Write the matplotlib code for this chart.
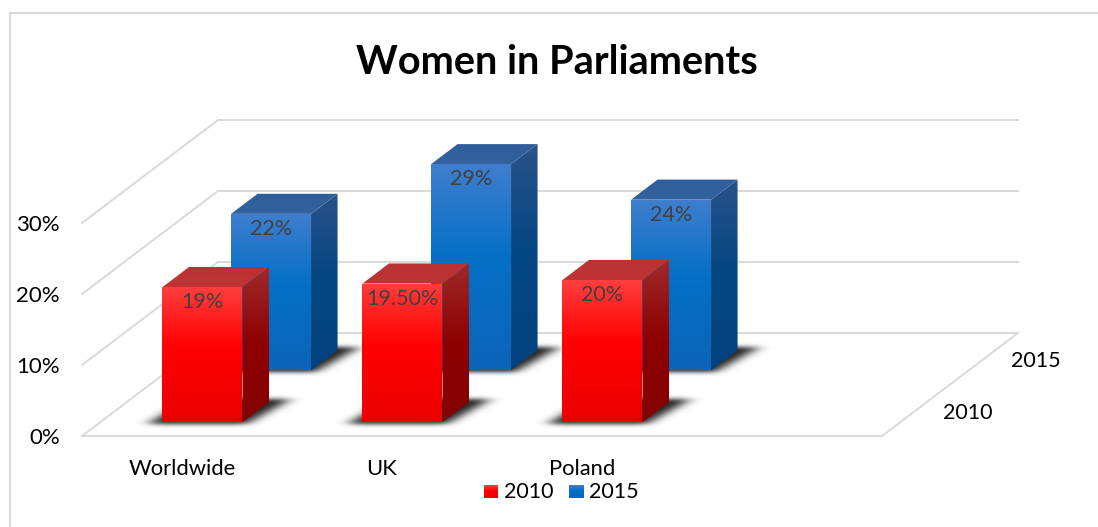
import numpy as np
import matplotlib
matplotlib.use("Agg")
import matplotlib.pyplot as plt
from matplotlib.patches import Polygon
from matplotlib.path import Path

categories = ["Worldwide", "UK", "Poland"]
series_names = ["2010", "2015"]
values_2010 = [19, 19.5, 20]
values_2015 = [22, 29, 24]
labels_2010 = ["19%", "19.50%", "20%"]
labels_2015 = ["22%", "29%", "24%"]
axis_ticks = [0, 10, 20, 30]

GRID = "#d9d9d9"
LABEL = "#404040"
FONT = ["Lato", "DejaVu Sans"]

# box geometry, in pixels
X0, Y0 = 82, 436
FLOOR_W = 800
DEPTH_X, DEPTH_Y = 136, 103
CAT_W = 200
PX_PER_PCT = 7.1
BAR_W = 80
BAR_DEPTH = 0.195

RED = {
    "front": [(0, (255, 62, 62)), (0.45, (255, 0, 0)), (1, (234, 0, 0))],
    "side": [(0, (158, 42, 42)), (0.5, (142, 0, 0)), (1, (132, 0, 0))],
    "top": [(0, (186, 50, 50)), (1, (190, 52, 52))],
}
BLUE = {
    "front": [(0, (64, 126, 206)), (0.45, (4, 112, 198)), (1, (12, 100, 184))],
    "side": [(0, (42, 82, 138)), (0.5, (2, 70, 130)), (1, (2, 66, 126))],
    "top": [(0, (48, 94, 154)), (1, (52, 98, 158))],
}


def project(x, depth, value=0):
    """x in floor pixels from the left corner, depth 0-1, value in percent."""
    return (X0 + x + depth * DEPTH_X, Y0 - depth * DEPTH_Y - value * PX_PER_PCT)


def gradient_poly(ax, pts, stops, zorder):
    pts = np.array(pts, dtype=float)
    l, r = pts[:, 0].min(), pts[:, 0].max()
    t, b = pts[:, 1].min(), pts[:, 1].max()
    pos = np.linspace(0, 1, 256)
    stop_pos = [s[0] for s in stops]
    rgb = np.stack(
        [np.interp(pos, stop_pos, [s[1][i] for s in stops]) for i in range(3)], axis=1
    )
    img = (rgb / 255.0)[:, None, :]
    im = ax.imshow(img, extent=(l, r, b, t), aspect="auto", zorder=zorder,
                   interpolation="bilinear")
    im.set_clip_path(Polygon(pts, closed=True, transform=ax.transData))


def draw_shadow(ax, fl, fr, br, bl, zorder):
    # soft shadow on the floor, a stretched footprint with blurred edges
    pts = [(fl[0] - 15, fl[1] + 2), (fr[0] + 4, fr[1] + 2),
           (br[0] + 22, br[1] - 3), (bl[0], bl[1] - 3)]
    xmin, ymin = int(fl[0] - 50), int(br[1] - 30)
    w, h = int(br[0] - fl[0] + 110), int(fl[1] - br[1] + 60)
    xx, yy = np.meshgrid(np.arange(w) + xmin + 0.5, np.arange(h) + ymin + 0.5)
    mask = Path(pts).contains_points(np.c_[xx.ravel(), yy.ravel()]).reshape(h, w).astype(float)
    kernel_x = np.exp(-np.arange(-20, 21) ** 2 / (2 * 7.0 ** 2))
    kernel_x /= kernel_x.sum()
    kernel_y = np.exp(-np.arange(-8, 9) ** 2 / (2 * 2.2 ** 2))
    kernel_y /= kernel_y.sum()
    mask = np.apply_along_axis(lambda m: np.convolve(m, kernel_y, mode="same"), 0, mask)
    mask = np.apply_along_axis(lambda m: np.convolve(m, kernel_x, mode="same"), 1, mask)
    rgba = np.zeros((h, w, 4))
    rgba[..., :3] = 0.18
    rgba[..., 3] = np.clip(mask * 1.05, 0, 1)
    ax.imshow(rgba, extent=(xmin, xmin + w, ymin + h, ymin), aspect="auto", zorder=zorder,
              interpolation="bilinear")


def draw_bar(ax, cat_idx, front_depth, value, colours, label, zorder):
    cx = CAT_W * cat_idx + 100 + 2
    x1, x2 = cx - BAR_W / 2, cx + BAR_W / 2
    d2 = front_depth + BAR_DEPTH

    draw_shadow(ax, project(x1, front_depth), project(x2, front_depth),
                project(x2, d2), project(x1, d2), zorder)

    gradient_poly(ax, [project(x1, front_depth), project(x2, front_depth),
                       project(x2, front_depth, value), project(x1, front_depth, value)],
                  colours["front"], zorder + 1)
    gradient_poly(ax, [project(x2, front_depth), project(x2, d2),
                       project(x2, d2, value), project(x2, front_depth, value)],
                  colours["side"], zorder + 1)
    gradient_poly(ax, [project(x1, front_depth, value), project(x2, front_depth, value),
                       project(x2, d2, value), project(x1, d2, value)],
                  colours["top"], zorder + 1)

    lx, ly = project(cx, front_depth, value)
    ax.text(lx, ly + 15, label, ha="center", va="center", fontsize=15.5,
            color=LABEL, family=FONT, zorder=zorder + 2)


fig = plt.figure(figsize=(10.98, 5.27), dpi=100)
ax = fig.add_axes([0, 0, 1, 1])
ax.set_xlim(0, 1098)
ax.set_ylim(527, 0)
ax.axis("off")

# chart frame
ax.plot([10, 10, 1098], [527, 13, 13], color=GRID, lw=1.5, zorder=1)

# walls and floor
for v in axis_ticks:
    a = project(0, 0, v)
    b = project(0, 1, v)
    c = project(FLOOR_W, 1, v)
    ax.plot([a[0], b[0], c[0]], [a[1], b[1], c[1]], color=GRID, lw=1.4, zorder=2)
    ax.text(a[0] - 22, a[1] + 2, f"{v}%", ha="right", va="center", fontsize=16, family=FONT,
            color="black")
a = project(0, 0)
b = project(FLOOR_W, 0)
c = project(FLOOR_W, 1)
ax.plot([a[0], b[0], c[0]], [a[1], b[1], c[1]], color=GRID, lw=1.4, zorder=2)

# back row first so the front row sits on top of it
for i, (v, lab) in enumerate(zip(values_2015, labels_2015)):
    draw_bar(ax, i, 0.64, v, BLUE, lab, 10 + i)
for i, (v, lab) in enumerate(zip(values_2010, labels_2010)):
    draw_bar(ax, i, 0.136, v, RED, lab, 20 + i)

for i, name in enumerate(categories):
    ax.text(X0 + CAT_W * i + 100, 469, name, ha="center", va="center", fontsize=15.8,
            family=FONT, color="black")

ax.text(968, 413, series_names[0], ha="center", va="center", fontsize=15.5, family=FONT)
ax.text(1036, 361, series_names[1], ha="center", va="center", fontsize=15.5, family=FONT)

# legend
gradient_poly(ax, [(484, 485), (498, 485), (498, 498), (484, 498)], RED["front"], 30)
gradient_poly(ax, [(569, 485), (584, 485), (584, 498), (569, 498)], BLUE["front"], 30)
ax.text(504, 492, series_names[0], ha="left", va="center", fontsize=15.5, family=FONT)
ax.text(589, 492, series_names[1], ha="left", va="center", fontsize=15.5, family=FONT)

ax.text(557, 62, "Women in Parliaments", ha="center", va="center", fontsize=28.6,
        fontweight="bold", family=FONT, color="black")

ax.set_xlim(0, 1098)
ax.set_ylim(527, 0)
fig.savefig("out.png", dpi=100, facecolor="white")
